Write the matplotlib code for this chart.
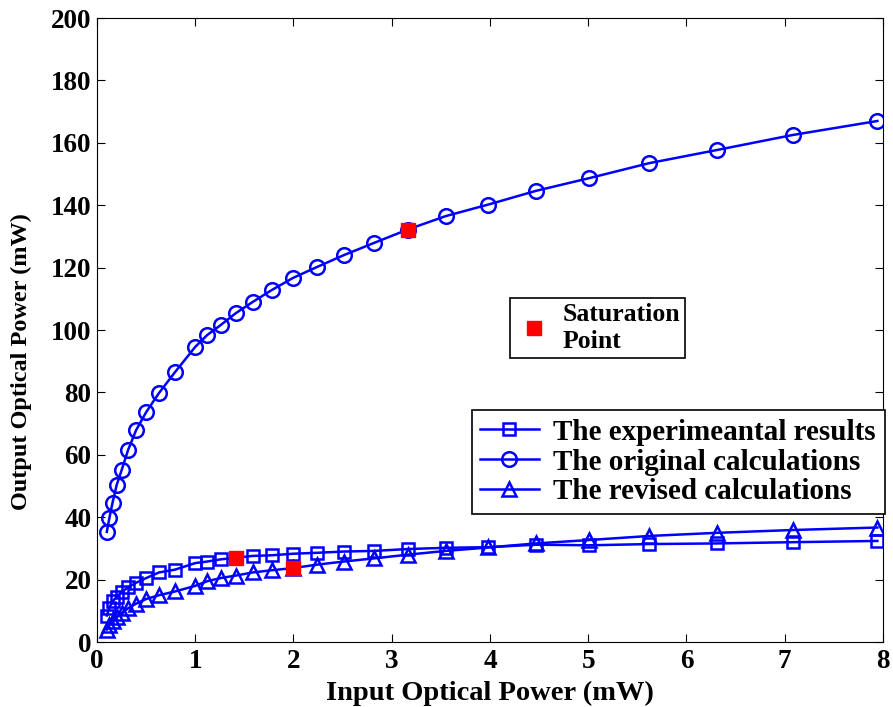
import matplotlib
matplotlib.use('Agg')
from matplotlib import pyplot as plt
from matplotlib.lines import Line2D

# Input power grid (mW)
power_in = [0.1, 0.126, 0.158, 0.2, 0.251, 0.316, 0.398, 0.501, 0.631, 0.794,
            1.0, 1.122, 1.259, 1.413, 1.585, 1.778, 1.995, 2.239, 2.512, 2.818,
            3.162, 3.548, 3.981, 4.467, 5.012, 5.623, 6.31, 7.079, 7.943]

experimental = [8.5, 11.0, 13.0, 14.5, 16.0, 17.5, 19.0, 20.5, 22.3, 23.2,
                25.3, 25.8, 26.5, 27.0, 27.6, 27.8, 28.3, 28.6, 29.0, 29.2,
                29.8, 30.2, 30.4, 31.2, 31.0, 31.4, 31.6, 32.0, 32.4]

original = [35.3, 39.7, 44.6, 50.3, 55.1, 61.5, 67.9, 73.7, 79.8, 86.5,
            94.6, 98.4, 101.6, 105.4, 109.0, 112.8, 116.7, 120.2, 124.0, 127.9,
            132.2, 136.5, 140.2, 144.6, 148.7, 153.5, 157.7, 162.5, 167.0]

revised = [4.0, 5.5, 6.8, 8.0, 9.3, 10.8, 12.3, 13.8, 15.0, 16.2,
           18.0, 19.5, 20.5, 21.3, 22.3, 23.0, 23.7, 24.8, 25.8, 26.8,
           28.0, 29.2, 30.3, 31.6, 32.7, 34.0, 35.0, 35.9, 36.7]

# Saturation points
sat_x = [3.162, 1.413, 1.995]
sat_y = [132.2, 27.0, 23.6]

labels = ['The experimeantal results', 'The original calculations',
          'The revised calculations']

plt.rcParams['font.family'] = ['Liberation Serif', 'DejaVu Serif']
plt.rcParams['font.weight'] = 'bold'

fig = plt.figure(figsize=(8.93, 7.07), dpi=100)
ax = fig.add_axes([0.1086, 0.0919, 0.8802, 0.8826])

blue = (0, 0, 1)
style = dict(color=blue, linewidth=1.8, markerfacecolor='none',
             markeredgecolor=blue, markeredgewidth=1.8)

l1, = ax.plot(power_in, experimental, marker='s', markersize=9, **style)
l2, = ax.plot(power_in, original, marker='o', markersize=10.5, **style)
l3, = ax.plot(power_in, revised, marker='^', markersize=9.5, **style)
ax.plot(sat_x, sat_y, linestyle='none', marker='s', markersize=10,
        markerfacecolor='red', markeredgecolor='red')

ax.set_xlim(0, 8)
ax.set_ylim(0, 200)
ax.set_xticks(range(0, 9))
ax.set_yticks(range(0, 201, 20))
ax.tick_params(direction='in', top=True, right=True, labelsize=19.5, length=6)
ax.tick_params(axis='x', pad=5)
ax.tick_params(axis='y', pad=4)
for lab in ax.get_xticklabels() + ax.get_yticklabels():
    lab.set_fontweight('bold')

ax.set_xlabel('Input Optical Power (mW)', fontsize=20.5, fontweight='bold', labelpad=5)
ax.set_ylabel('Output Optical Power (mW)', fontsize=17.5, fontweight='bold')
ax.yaxis.set_label_coords(-0.083, 0.449)

# Main legend
leg = ax.legend([l1, l2, l3], labels, loc='upper right',
                bbox_to_anchor=(1.002, 0.372), borderaxespad=0,
                fancybox=False, edgecolor='black', framealpha=1,
                prop={'size': 21, 'weight': 'bold'}, handlelength=2.0,
                labelspacing=0.1, handletextpad=0.5, borderpad=0.3)
leg.get_frame().set_linewidth(1.2)
ax.add_artist(leg)

# Saturation point box
sat_handle = Line2D([], [], linestyle='none', marker='s', markersize=10,
                    markerfacecolor='red', markeredgecolor='red')
leg2 = ax.legend([sat_handle], ['Saturation\nPoint'], loc='upper left',
                 bbox_to_anchor=(0.525, 0.551), borderaxespad=0,
                 fancybox=False, edgecolor='black', framealpha=1,
                 prop={'size': 18.5, 'weight': 'bold'}, handlelength=1.5,
                 handletextpad=0.35, borderpad=0.2)
leg2.get_frame().set_linewidth(1.2)

fig.savefig('out.png', dpi=100)
